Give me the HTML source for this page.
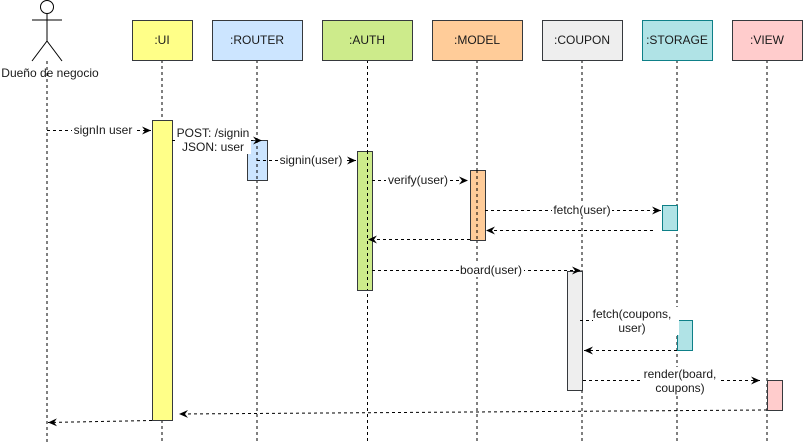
<!DOCTYPE html>
<html><head><meta charset="utf-8"><style>
html,body{margin:0;padding:0;background:#fff;}
svg{display:block;}
text{font-family:"Liberation Sans",sans-serif;font-size:12px;fill:#1a1a1a;}
</style></head><body>
<svg width="803" height="442" viewBox="0 0 803 442" xmlns="http://www.w3.org/2000/svg">
<defs>
<marker id="a" markerWidth="10" markerHeight="10" refX="9" refY="5" orient="auto" markerUnits="userSpaceOnUse">
<path d="M0,1 L9,5 L0,9 L3,5 Z" fill="#000"/>
</marker>
</defs>
<g stroke="#000" fill="none">
<circle cx="47" cy="7" r="6.5" fill="#fff"/>
<line x1="47" y1="14" x2="47" y2="41"/>
<line x1="32" y1="20" x2="62" y2="20"/>
<line x1="47" y1="41" x2="32" y2="61"/>
<line x1="47" y1="41" x2="62" y2="61"/>
</g>
<text x="50" y="77" text-anchor="middle">Dueño de negocio</text>
<!-- lifelines -->
<g stroke="#000" stroke-dasharray="3,3">
<line x1="47" y1="61" x2="47" y2="442"/>
<line x1="162" y1="60" x2="162" y2="442"/>
<line x1="257" y1="60" x2="257" y2="442"/>
<line x1="367.5" y1="60" x2="367.5" y2="442"/>
<line x1="477" y1="60" x2="477" y2="442"/>
<line x1="582" y1="60" x2="582" y2="442"/>
<line x1="677" y1="60" x2="677" y2="442"/>
<line x1="767" y1="60" x2="767" y2="442"/>
</g>
<!-- heads -->
<g stroke="#36393d">
<rect x="132.5" y="20.5" width="60" height="40" fill="#ffff88"/>
<rect x="212.5" y="20.5" width="90" height="40" fill="#cce5ff"/>
<rect x="322.5" y="20.5" width="90" height="40" fill="#cdeb8b"/>
<rect x="432.5" y="20.5" width="90" height="40" fill="#ffcc99"/>
<rect x="542.5" y="20.5" width="80" height="40" fill="#eeeeee"/>
<rect x="642.5" y="20.5" width="70" height="40" fill="#b0e3e6" stroke="#0e8088"/>
<rect x="732.5" y="20.5" width="70" height="40" fill="#ffcccc"/>
</g>
<g text-anchor="middle">
<text x="162" y="44">:UI</text>
<text x="257" y="44">:ROUTER</text>
<text x="367" y="44">:AUTH</text>
<text x="477" y="44">:MODEL</text>
<text x="582" y="44">:COUPON</text>
<text x="677" y="44">:STORAGE</text>
<text x="767" y="44">:VIEW</text>
</g>
<!-- activations -->
<g stroke="#36393d">
<rect x="152.5" y="120.5" width="20" height="300" fill="#ffff88"/>
<rect x="247.5" y="140.5" width="20" height="40" fill="#cce5ff"/>
<rect x="357.5" y="151.5" width="15" height="139" fill="#cdeb8b"/>
<rect x="470.5" y="170.5" width="15" height="70" fill="#ffcc99"/>
<rect x="567.5" y="271.5" width="15" height="119" fill="#eeeeee"/>
<rect x="662.5" y="205.5" width="15" height="25" fill="#b0e3e6" stroke="#0e8088"/>
<rect x="677.5" y="320.5" width="15" height="30" fill="#b0e3e6" stroke="#0e8088"/>
<rect x="767.5" y="380.5" width="15" height="30" fill="#ffcccc"/>
</g>
<!-- lifeline dashes over activations -->
<g stroke="#000" stroke-dasharray="3,3">
<line x1="257" y1="140" x2="257" y2="180"/>
<line x1="367.5" y1="151" x2="367.5" y2="290"/>
<line x1="477" y1="170" x2="477" y2="240"/>
</g>
<!-- messages -->
<g stroke="#000" stroke-dasharray="3,3" fill="none" marker-end="url(#a)">
<line x1="47" y1="130.5" x2="151" y2="130.5"/>
<polyline points="172,140.5 262,140.5"/>
<line x1="257" y1="160.5" x2="356" y2="160.5"/>
<line x1="372" y1="180.5" x2="468" y2="180.5"/>
<line x1="485" y1="210.5" x2="661" y2="210.5"/>
<line x1="653" y1="230.5" x2="486" y2="230.5"/>
<line x1="470" y1="239.5" x2="368" y2="239.5"/>
<line x1="372" y1="270.5" x2="581" y2="270.5"/>
<line x1="580" y1="320.5" x2="677" y2="320.5"/>
<line x1="677" y1="350.5" x2="584" y2="350.5"/>
<line x1="583" y1="380.5" x2="760" y2="380.5"/>
<line x1="767" y1="410" x2="179" y2="414"/>
<line x1="152" y1="420.5" x2="48" y2="422.5"/>
</g>
<!-- labels -->
<g text-anchor="middle">
<rect x="72" y="123" width="62" height="14" fill="#fff"/>
<text x="103" y="134">signIn user</text>
<rect x="177" y="126" width="74" height="28" fill="#fff"/>
<text x="213" y="137">POST: /signin</text>
<text x="213" y="151">JSON: user</text>
<rect x="278" y="153" width="66" height="14" fill="#fff"/>
<text x="311" y="164">signin(user)</text>
<rect x="386" y="173" width="64" height="14" fill="#fff"/>
<text x="418" y="184">verify(user)</text>
<rect x="552" y="203" width="60" height="14" fill="#fff"/>
<text x="582" y="214">fetch(user)</text>
<rect x="459" y="263" width="65" height="14" fill="#fff"/>
<text x="491" y="274">board(user)</text>
<rect x="593" y="307" width="86" height="28" fill="#fff"/>
<text x="632" y="318">fetch(coupons,</text>
<text x="632" y="332">user)</text>
<rect x="643" y="367" width="76" height="28" fill="#fff"/>
<text x="680" y="378">render(board,</text>
<text x="680" y="392">coupons)</text>
</g>
</svg>
</body></html>
